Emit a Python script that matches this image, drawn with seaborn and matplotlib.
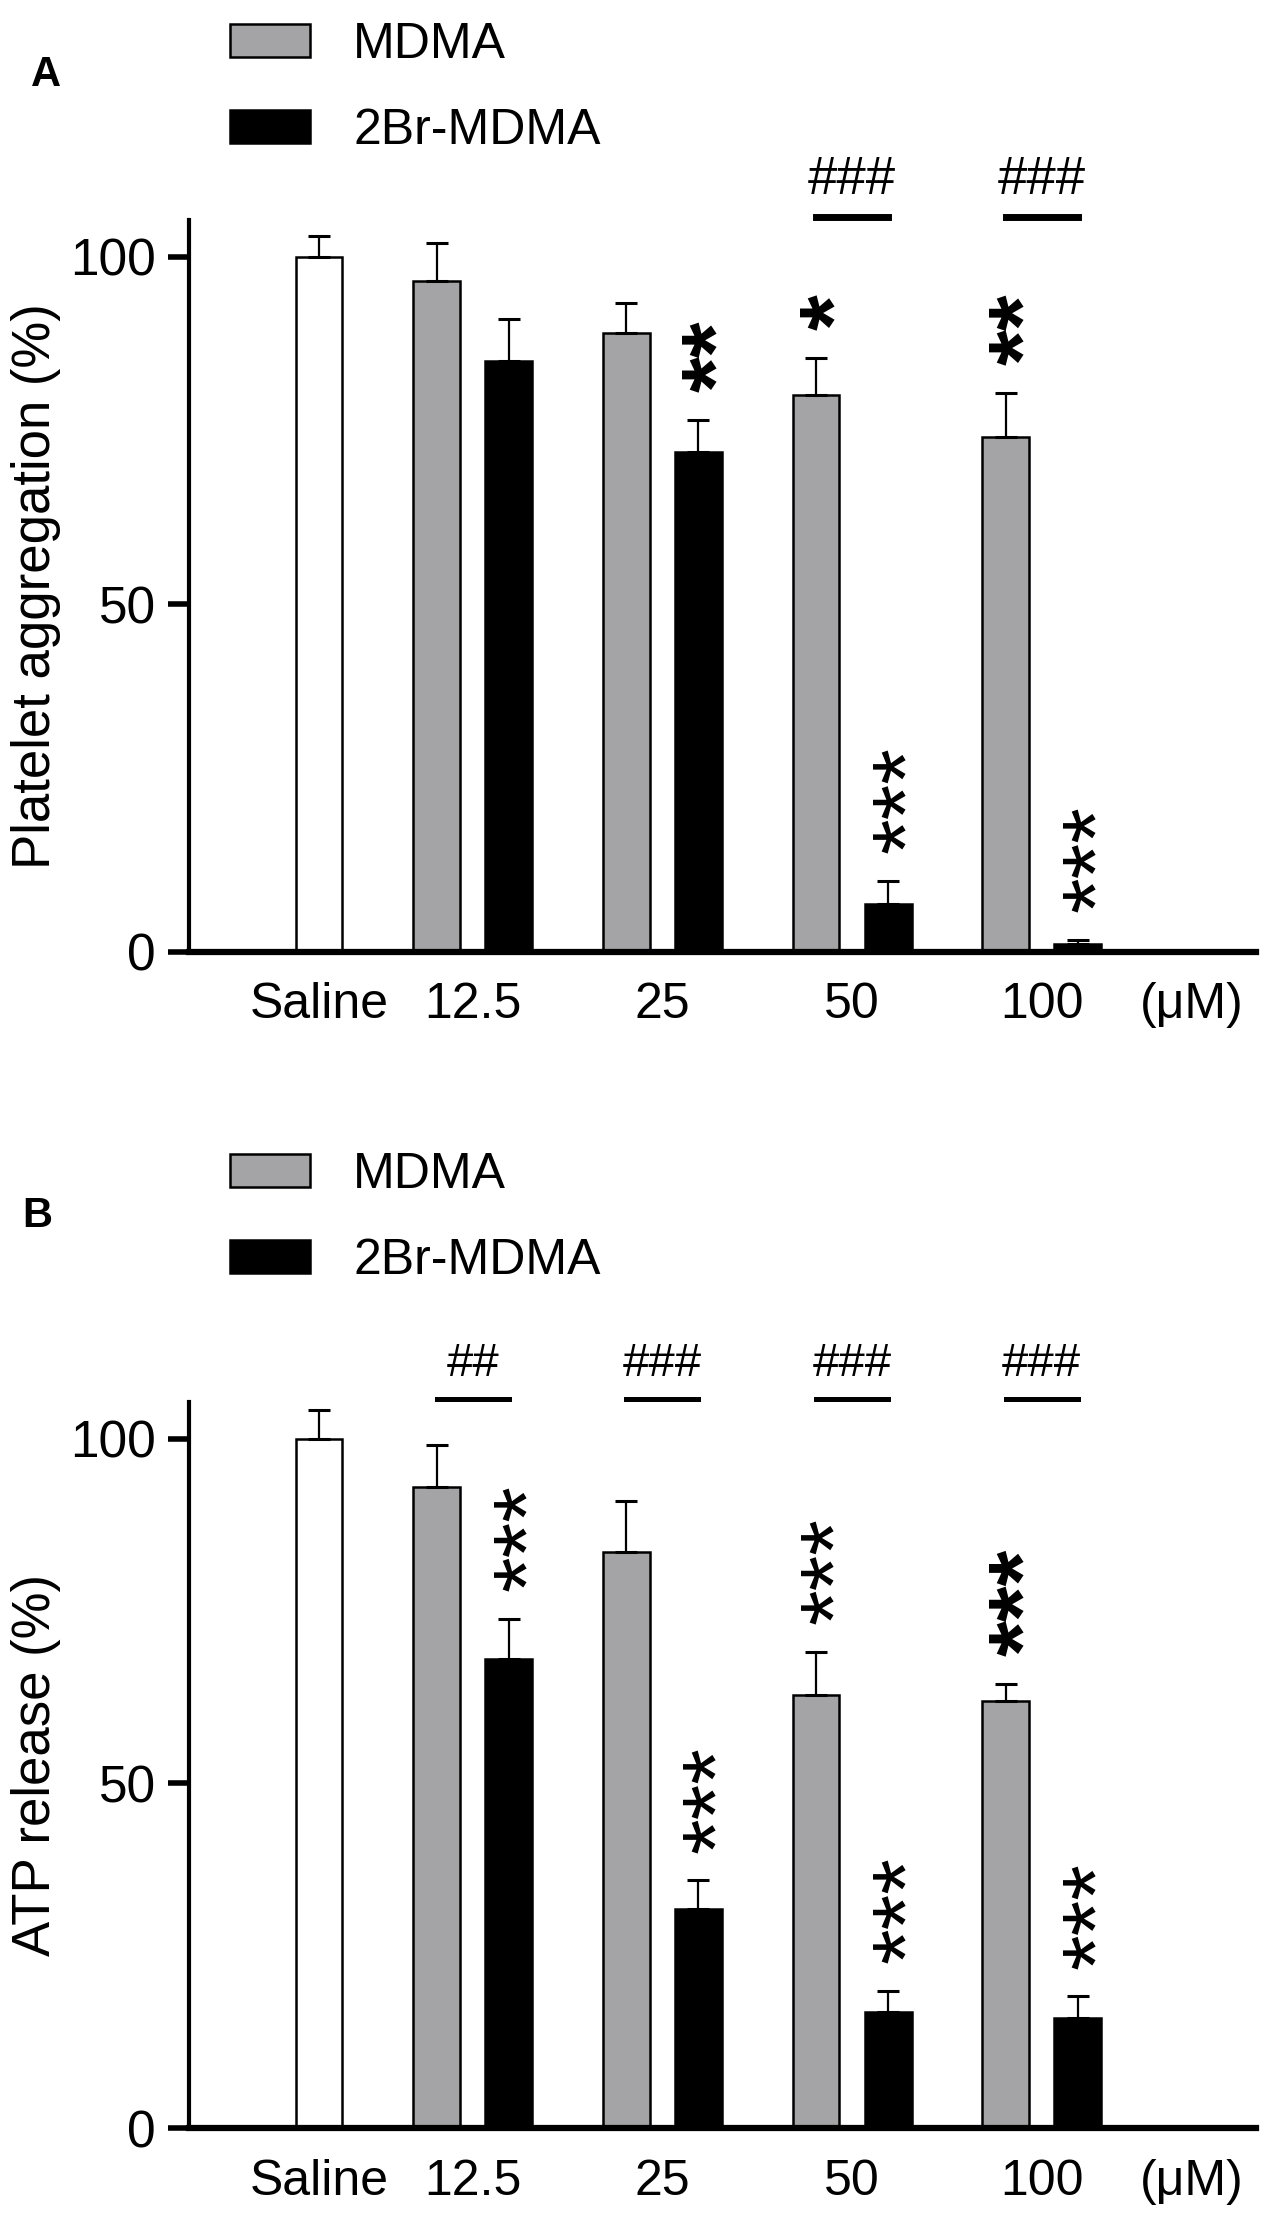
# Platelet aggregation (A) and ATP release (B) with MDMA and 2Br-MDMA.

import matplotlib
matplotlib.use("Agg")

import matplotlib.pyplot as plt
import numpy as np
import pandas as pd
import seaborn as sns

sns.set_theme(style="ticks")
plt.rcParams["font.family"] = ["Liberation Sans", "DejaVu Sans"]
plt.rcParams["text.color"] = "black"
plt.rcParams["axes.labelcolor"] = "black"
plt.rcParams["axes.edgecolor"] = "black"
plt.rcParams["xtick.color"] = "black"
plt.rcParams["ytick.color"] = "black"

# ---- data ----
doses = ["Saline", "12.5", "25", "50", "100"]
drugDoses = ["12.5", "25", "50", "100"]
drugs = ["MDMA", "2Br-MDMA"]

# panel A: platelet aggregation (%)
aggSaline = 100.0
aggSalineSem = 3.0
aggMdma = [96.5, 89.1, 80.1, 74.1]
aggMdmaSem = [5.5, 4.3, 5.4, 6.3]
aggBr = [85.0, 71.9, 6.9, 1.2]
aggBrSem = [6.1, 4.6, 3.3, 0.5]
aggMdmaStars = ["", "", "*", "**"]
aggBrStars = ["", "**", "***", "***"]
aggMdmaBold = [False, False, True, True]
aggBrBold = [False, True, False, False]
aggHashes = ["", "", "###", "###"]

# panel B: ATP release (%)
atpSaline = 100.0
atpSalineSem = 4.1
atpMdma = [92.9, 83.6, 62.8, 61.9]
atpMdmaSem = [6.1, 7.3, 6.2, 2.5]
atpBr = [68.0, 31.7, 16.8, 15.9]
atpBrSem = [5.8, 4.2, 3.1, 3.2]
atpMdmaStars = ["", "", "***", "***"]
atpBrStars = ["***", "***", "***", "***"]
atpMdmaBold = [False, False, False, True]
atpBrBold = [False, False, False, False]
atpHashes = ["##", "###", "###", "###"]

# ---- style ----
grey = "#a3a3a8"
palette = {"MDMA": grey, "2Br-MDMA": "black"}
barWidth = 0.76
barGap = 0.35
bracketY = 105.7
yTop = 105.3
microPos = 4.79
starSize = 66
starPad = 20
hashPad = 17


def drawPanel(ax, salineVal, salineSem, mdma, mdmaSem, br, brSem,
              mdmaStars, brStars, mdmaBold, brBold, hashes, ylabel,
              hashSize, bracketWidth):
    # saline sits alone in the second dodge slot of the first group
    salineDf = pd.DataFrame({"dose": ["Saline"], "value": [salineVal],
                             "slot": ["Saline"]})
    sns.barplot(data=salineDf, x="dose", y="value", hue="slot",
                order=doses, hue_order=["(empty)", "Saline"],
                palette={"(empty)": "white", "Saline": "white"},
                width=barWidth, gap=barGap, dodge=True, errorbar=None,
                edgecolor="black", linewidth=1.8, legend=False, ax=ax)
    salineBar = ax.containers[-1].patches[0]

    drugDf = pd.DataFrame({
        "dose": drugDoses * 2,
        "value": mdma + br,
        "drug": [drugs[0]] * 4 + [drugs[1]] * 4,
    })
    sns.barplot(data=drugDf, x="dose", y="value", hue="drug",
                order=doses, hue_order=drugs, palette=palette,
                width=barWidth, gap=barGap, dodge=True, errorbar=None,
                edgecolor="black", linewidth=1.8, legend=True, ax=ax)
    mdmaBars = ax.containers[-2].patches
    brBars = ax.containers[-1].patches

    def centre(p):
        return p.get_x() + p.get_width() / 2

    salineX = centre(salineBar)
    mdmaX = [centre(p) for p in mdmaBars]
    brX = [centre(p) for p in brBars]

    # upper error bars only
    allX = [salineX] + mdmaX + brX
    allY = [salineVal] + mdma + br
    allSem = [salineSem] + mdmaSem + brSem
    ax.errorbar(allX, allY, yerr=[np.zeros(len(allSem)), allSem], fmt="none",
                ecolor="black", elinewidth=1.6, capsize=8, capthick=2.2,
                zorder=3)

    # stars, written sideways like the original
    for xs, ys, sems, stars, bolds in [(mdmaX, mdma, mdmaSem, mdmaStars, mdmaBold),
                                       (brX, br, brSem, brStars, brBold)]:
        for x, y, s, st, b in zip(xs, ys, sems, stars, bolds):
            if not st:
                continue
            ax.annotate(st, xy=(x, y + s), xytext=(0.26 * starSize, starPad),
                        textcoords="offset points", rotation=90,
                        ha="center", va="bottom", fontsize=starSize,
                        color="black",
                        fontweight="bold" if b else "normal",
                        annotation_clip=False)

    # MDMA vs 2Br-MDMA brackets
    for xm, xb, h in zip(mdmaX, brX, hashes):
        if not h:
            continue
        ax.plot([xm, xb], [bracketY, bracketY], color="black",
                linewidth=bracketWidth, solid_capstyle="projecting",
                clip_on=False)
        ax.annotate(h, xy=((xm + xb) / 2, bracketY), xytext=(0, hashPad),
                    textcoords="offset points", ha="center", va="baseline",
                    fontsize=hashSize, color="black", annotation_clip=False)

    # axes look
    ax.set_xlim(-0.495, 5.13)
    ax.set_ylim(0, yTop)
    ax.set_yticks([0, 50, 100])
    ax.set_xticks([salineX, 1, 2, 3, 4, microPos])
    ax.set_xticklabels(doses + ["(\u03bcM)"])
    ax.tick_params(axis="x", length=0, pad=22, labelsize=36)
    ax.tick_params(axis="y", length=15, width=4, pad=9, labelsize=37)
    sns.despine(ax=ax)
    ax.spines["left"].set_linewidth(3)
    ax.spines["bottom"].set_linewidth(4.5)
    ax.set_xlabel("")
    ax.set_ylabel(ylabel, fontsize=38)
    ax.yaxis.set_label_coords(-0.12, 0.5)

    # legend above the plot
    leg = ax.get_legend()
    handles = leg.legend_handles
    labels = [t.get_text() for t in leg.get_texts()]
    leg.remove()
    for hd in handles:
        hd.set_edgecolor("black")
        hd.set_linewidth(1.8)
    return handles, labels


fig = plt.figure(figsize=(12.67, 22.20), dpi=100)
axA = fig.add_axes([0.1492, 0.5712, 0.8422, 0.3297])
axB = fig.add_axes([0.1492, 0.04144, 0.8422, 0.32703])

hA, lA = drawPanel(axA, aggSaline, aggSalineSem, aggMdma, aggMdmaSem, aggBr,
                   aggBrSem, aggMdmaStars, aggBrStars, aggMdmaBold, aggBrBold,
                   aggHashes, "Platelet aggregation (%)", 38, 5)
hB, lB = drawPanel(axB, atpSaline, atpSalineSem, atpMdma, atpMdmaSem, atpBr,
                   atpBrSem, atpMdmaStars, atpBrStars, atpMdmaBold, atpBrBold,
                   atpHashes, "ATP release (%)", 34, 3.6)

for ax, handles, labels, top in [(axA, hA, lA, 1 - 22 / 2220),
                                 (axB, hB, lB, 1 - 1152 / 2220)]:
    ax.legend(handles, labels, loc="upper left",
              bbox_to_anchor=(230 / 1267, top), bbox_transform=fig.transFigure,
              frameon=False, fontsize=36, handlelength=1.6, handleheight=0.64,
              handletextpad=0.86, labelspacing=0.8, borderpad=0,
              borderaxespad=0)

fig.text(46 / 1267, 1 - 75 / 2220, "A", fontsize=30, fontweight="bold",
         ha="center", va="center")
fig.text(37 / 1267, 1 - 1216 / 2220, "B", fontsize=30, fontweight="bold",
         ha="center", va="center")

fig.savefig("out.png", dpi=100)
